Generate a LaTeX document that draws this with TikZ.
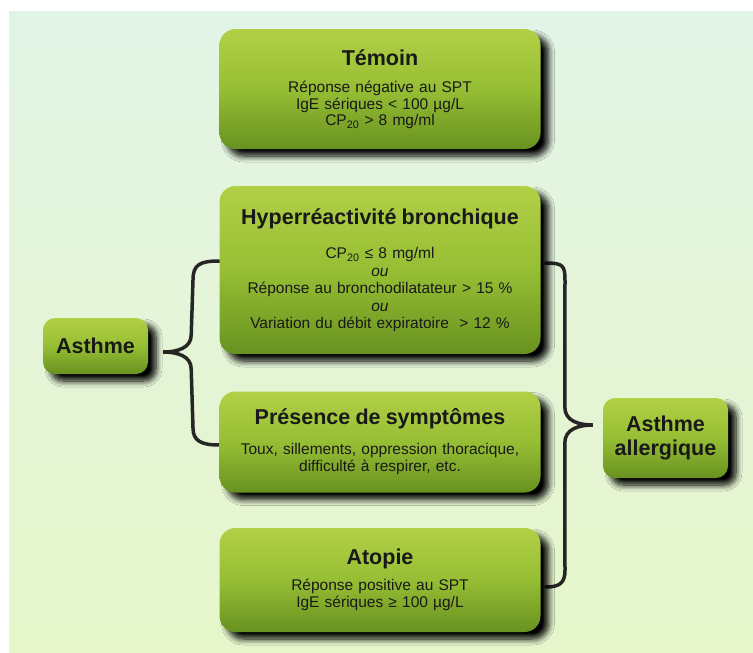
\documentclass[tikz,border=0pt]{standalone}
\usepackage{fontspec}
\setmainfont{Liberation Sans}
\usepackage{xcolor}
\usetikzlibrary{positioning,backgrounds,calc,shadows.blur}

\definecolor{boxtop}{RGB}{178,208,70}
\definecolor{boxmid}{RGB}{150,190,52}
\definecolor{boxbot}{RGB}{104,146,32}
\definecolor{bgtop}{RGB}{226,244,230}
\definecolor{bgbot}{RGB}{230,246,202}

\begin{document}
\begin{tikzpicture}[x=1pt, y=-1pt,
    panel/.style={rectangle, rounded corners=16pt, minimum width=321pt, text width=315pt, align=center, inner sep=0pt,
        top color=boxtop, bottom color=boxbot, middle color=boxmid, draw=none, text=black!90,
        font=\fontsize{15.5}{17.5}\selectfont,
        blur shadow={shadow xshift=8pt, shadow yshift=-7pt, shadow blur radius=6pt, shadow blur steps=8, shadow opacity=100}},
    tag/.style={rectangle, rounded corners=12pt, align=center, inner sep=0pt,
        top color=boxtop, bottom color=boxbot, middle color=boxmid, draw=none, text=black!90,
        font=\fontsize{21.5}{24}\selectfont\bfseries,
        blur shadow={shadow xshift=8pt, shadow yshift=-7pt, shadow blur radius=6pt, shadow blur steps=8, shadow opacity=100}},
    brace/.style={line width=3.5pt, line cap=round, black!85}
]

\useasboundingbox (0,0) rectangle (753,653);

% Criteria boxes
\node[panel, minimum height=120pt, font=\fontsize{15.5}{16.5}\selectfont] (temoin) at (380,89) {{\fontsize{21.5}{24}\selectfont\bfseries Témoin}\\[11pt]
    Réponse négative au SPT\\
    IgE sériques < 100 µg/L\\
    CP\textsubscript{20} > 8 mg/ml};
\node[panel, minimum height=168pt] (hyper) at (380,270) {{\fontsize{21.5}{24}\selectfont\bfseries Hyperréactivité bronchique}\\[17pt]
    CP\textsubscript{20} ≤ 8 mg/ml\\
    \textit{ou}\\
    Réponse au bronchodilatateur > 15 \%\\
    \textit{ou}\\
    Variation du débit expiratoire~~> 12 \%};
\node[panel, minimum height=101pt] (symptomes) at (380,442) {{\fontsize{21.5}{24}\selectfont\bfseries Présence de symptômes}\\[12pt]
    Toux, sillements, oppression thoracique,\\
    difficulté à respirer, etc.};
\node[panel, minimum height=104pt] (atopie) at (380,580) {{\fontsize{21.5}{24}\selectfont\bfseries Atopie}\\[8pt]
    Réponse positive au SPT\\
    IgE sériques ≥ 100 µg/L};

% Diagnoses
\node[tag, minimum width=105pt, minimum height=56pt] (asthme) at (95.5,346) {Asthme};
\node[tag, minimum width=125pt, minimum height=80pt] (allergique) at (665.5,438) {Asthme\\allergique};

% Braces
\coordinate (ltop) at ([yshift=9pt]hyper.west);
\coordinate (lbot) at ([yshift=-3pt]symptomes.west);
\coordinate (ltip) at ([xshift=15pt, yshift=-6pt]asthme.east);
\coordinate (rtop) at ([xshift=5pt, yshift=7pt]hyper.east);
\coordinate (rbot) at ([xshift=5pt, yshift=-7pt]atopie.east);
\coordinate (rtip) at ([xshift=-10pt, yshift=13pt]allergique.west);

\begin{scope}[on background layer]
\fill[white] (0,0) rectangle (753,653);
\shade[top color=bgtop, bottom color=bgbot] (9,11) rectangle (753,653);
\draw[brace] (ltop) .. controls ($(ltop)+(-20,0)$) and (193,265) .. (193,280)
    -- ($(ltip)+(28,-17)$) .. controls ($(ltip)+(28,-4)$) and ($(ltip)+(14,0)$) .. (ltip)
    .. controls ($(ltip)+(14,0)$) and ($(ltip)+(28,4)$) .. ($(ltip)+(28,17)$)
    -- (193,428) .. controls (193,441) and ($(lbot)+(-18,0)$) .. (lbot);
\draw[brace] (rtop) .. controls ($(rtop)+(18,0)$) and (565,266) .. (565,281)
    -- ($(rtip)+(-28,-18)$) .. controls ($(rtip)+(-28,-4)$) and ($(rtip)+(-14,0)$) .. (rtip)
    .. controls ($(rtip)+(-14,0)$) and ($(rtip)+(-28,4)$) .. ($(rtip)+(-28,18)$)
    -- (565,570) .. controls (565,583) and ($(rbot)+(14,0)$) .. (rbot);
\end{scope}

\end{tikzpicture}
\end{document}
